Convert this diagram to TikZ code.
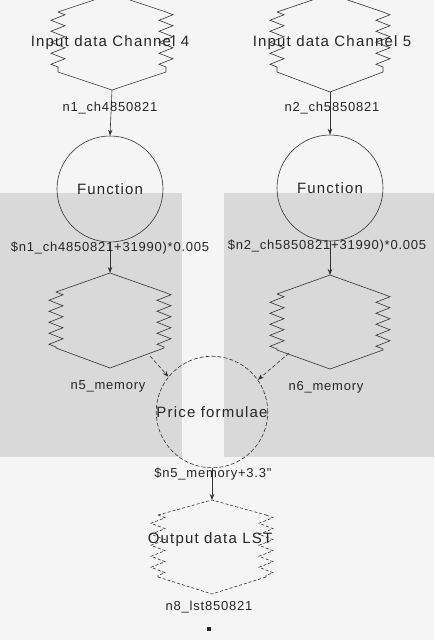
\documentclass[tikz,border=0pt]{standalone}
\usepackage{fontspec}
\usetikzlibrary{decorations.pathmorphing,arrows.meta}
\newfontfamily\bigf[LetterSpace=8]{Liberation Sans}
\newfontfamily\labf[LetterSpace=6]{Liberation Sans}
\tikzset{
  ln/.style={line width=0.6pt, draw=black!80},
  zz/.style={decorate, decoration={zigzag, amplitude=7pt, segment length=11pt}},
  arr/.style={ln, -{Stealth[length=6pt,width=4.5pt]}},
  big/.style={font=\bigf\fontsize{15}{18}\selectfont, text=black!85, inner sep=0pt},
  lab/.style={font=\labf\fontsize{13}{15}\selectfont, text=black!85, inner sep=0pt},
  fcirc/.style={circle, ln, inner sep=0pt},
  dotted line/.style={ln, dash pattern=on 4pt off 2pt},
}
% #1 style, #2 name, #3 cx, #4 half width, #5 top apex y, #6 top corner y, #7 bottom corner y, #8 bottom apex y
\newcommand\zzshape[8]{%
  \coordinate (#2-top) at (#3,#5);
  \coordinate (#2-bot) at (#3,#8);
  \coordinate (#2-tl) at ({#3-#4+7},#6);
  \coordinate (#2-tr) at ({#3+#4-7},#6);
  \coordinate (#2-bl) at ({#3-#4+7},#7);
  \coordinate (#2-br) at ({#3+#4-7},#7);
  \draw[ln,#1] (#2-tl) -- (#2-top) -- (#2-tr);
  \draw[ln,#1] (#2-bl) -- (#2-bot) -- (#2-br);
  \draw[ln,zz,#1] (#2-tl) -- (#2-bl);
  \draw[ln,zz,#1] (#2-tr) -- (#2-br);
}
\begin{document}
\begin{tikzpicture}[x=1pt,y=-1pt]
\useasboundingbox (0,0) rectangle (434,640);
\clip (0,0) rectangle (434,640);
\fill[black!4] (0,0) rectangle (434,640);
\fill[black!15] (0,193) rectangle (182,457);
\fill[black!15] (224,193) rectangle (434,457);

% input shapes
\zzshape{}{in4}{112}{61}{-6}{12}{72}{90}
\zzshape{}{in5}{330}{60}{-6}{12}{72}{92}
\node[big] (t4) at (110,43) {Input data Channel 4};
\node[big] (t5) at (332,43) {Input data Channel 5};

% function circles
\node[fcirc, minimum size=106pt, big] (f1) at (110,189) {Function};
\node[fcirc, minimum size=106pt, big] (f2) at (330,188) {Function};
\draw[arr] (in4-bot) -- (f1.north);
\draw[arr] (in5-bot) -- (f2.north);
\node[lab] (l1) at (110,108) {n1\_ch4850821};
\node[lab] (l2) at (332,108) {n2\_ch5850821};

% memory shapes
\zzshape{}{m5}{110}{61}{273}{292}{348}{368}
\zzshape{}{m6}{330}{60}{275}{294}{350}{369}
\draw[arr] (f1.south) -- (m5-top);
\draw[arr] (f2.south) -- (m6-top);
\node[lab] (e1) at (110,248) {\$n1\_ch4850821+31990)*0.005};
\node[lab] (e2) at (327,246) {\$n2\_ch5850821+31990)*0.005};
\node[lab] (n5) at (108,386) {n5\_memory};
\node[lab] (n6) at (326,387) {n6\_memory};

% price formulae
\node[fcirc, dotted line, minimum size=100pt, big] (pf) at (212,412) {Price formulae};
\coordinate (m5-out) at (150,356);
\coordinate (m6-out) at (289,353);
\draw[arr, dash pattern=on 4pt off 2pt] (m5-out) -- (pf.141);
\draw[arr, dash pattern=on 4pt off 2pt] (m6-out) -- (pf.35);

% output
\zzshape{dash pattern=on 3pt off 2pt}{out}{212}{61}{500}{515}{577}{594}
\draw[arr] (pf.south) -- (out-top);
\node[lab] (e3) at (213,474) {\$n5\_memory+3.3"};
\node[big] (t8) at (210,540) {Output data LST};
\node[lab] (n8) at (209,607) {n8\_lst850821};
\node[fill=black!85, minimum size=4pt, inner sep=0pt] (dot) at (209,629) {};
\end{tikzpicture}
\end{document}
